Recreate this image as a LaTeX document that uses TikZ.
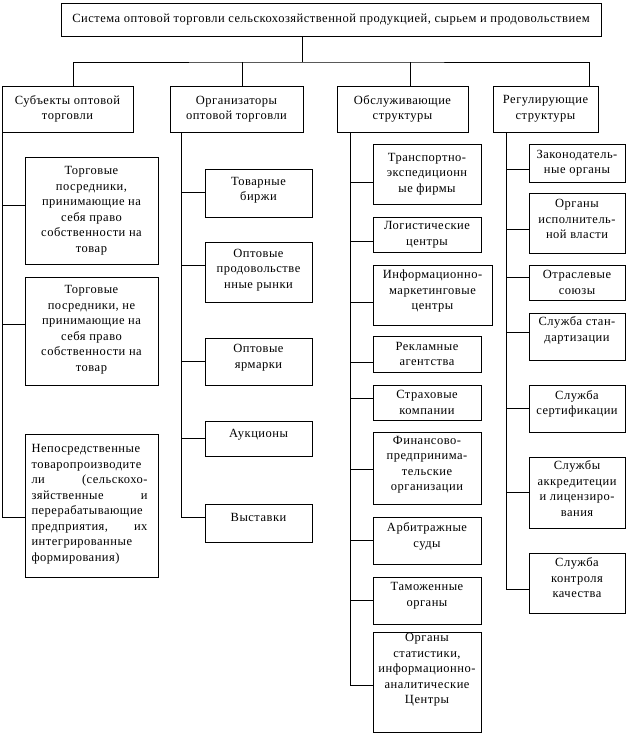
\documentclass[tikz,border=0pt]{standalone}
\usepackage{fontspec}
\setmainfont{Liberation Serif}[LetterSpace=4]
\newcommand\boxfont{\fontsize{12.5}{15.5}\selectfont}
% name, x1, y1, x2, y2, raise (pt), text
\newcommand\bx[7]{%
  \node[box] (#1) at (#2,#3)
    {\parbox[c][\dimexpr#5pt-#3pt\relax][c]{\dimexpr#4pt-#2pt\relax}%
      {\boxfont\centering #7\par\vspace{#6pt}}};}
\begin{document}
\begin{tikzpicture}[x=1pt,y=-1pt,line width=0.8pt,
  box/.style={draw, inner sep=0pt, outer sep=0pt, anchor=north west},
  link/.style={draw, line width=0.8pt}]
\useasboundingbox (0,0) rectangle (626,734);

% ---- top and level 2
\bx{top}{61}{3}{601}{36}{0}{Система оптовой торговли сельскохозяйственной продукцией, сырьем и продовольствием}
\bx{s0}{2}{86}{133}{132}{0}{Субъекты оптовой\\торговли}
\bx{o0}{170}{86}{303}{132}{0}{Организаторы\\оптовой торговли}
\bx{u0}{337}{86}{468}{132}{0}{Обслуживающие\\структуры}
\bx{r0}{493}{86}{598}{132}{0}{Регулирующие\\структуры}

% ---- subjects
\bx{s1}{25}{157}{158}{264}{0}{Торговые\\посредники,\\принимающие на\\себя право\\собственности на\\товар}
\bx{s2}{25}{277}{158}{385}{3}{Торговые\\посредники, не\\принимающие на\\себя право\\собственности на\\товар}
\bx{s3}{25}{434}{158}{577}{3}{\hspace*{-4pt}\parbox{116pt}{\raggedright
Непосредственные\\
товаропроизводите\\
ли\hfill(сельскохо-\\
зяйственные\hfill и\\
перерабатывающие\\
предприятия,\hfill их\\
интегрированные\\
формирования)}}

% ---- organisers
\bx{o1}{205}{169}{312}{217}{6}{Товарные\\биржи}
\bx{o2}{205}{242}{312}{302}{4}{Оптовые\\продовольстве\\нные рынки}
\bx{o3}{205}{338}{312}{385}{8}{Оптовые\\ярмарки}
\bx{o4}{205}{421}{312}{456}{8}{Аукционы}
\bx{o5}{205}{504}{312}{542}{12}{Выставки}

% ---- service structures
\bx{u1}{373}{144}{481}{204}{0}{Транспортно-\\экспедиционн\\ые фирмы}
\bx{u2}{373}{217}{481}{252}{0}{Логистические\\центры}
\bx{u3}{373}{265}{492}{325}{8}{Информационно-\\маркетинговые\\центры}
\bx{u4}{373}{336}{481}{372}{0}{Рекламные\\агентства}
\bx{u5}{373}{385}{481}{420}{0}{Страховые\\компании}
\bx{u6}{373}{432}{481}{504}{7}{Финансово-\\предпринима-\\тельские\\организации}
\bx{u7}{373}{517}{481}{564}{8}{Арбитражные\\суды}
\bx{u8}{373}{577}{481}{624}{10}{Таможенные\\органы}
\bx{u9}{373}{632}{481}{732}{24}{Органы\\статистики,\\информационно-\\аналитические\\Центры}

% ---- regulating structures
\bx{r1}{529}{144}{625}{182}{0}{Законодатель-\\ные органы}
\bx{r2}{529}{193}{625}{253}{8}{Органы\\исполнитель-\\ной власти}
\bx{r3}{529}{265}{625}{300}{0}{Отраслевые\\союзы}
\bx{r4}{529}{313}{625}{360}{12}{Служба стан-\\дартизации}
\bx{r5}{529}{385}{625}{432}{9}{Служба\\сертификации}
\bx{r6}{529}{457}{625}{528}{8}{Службы\\аккредитеции\\и лицензиро-\\вания}
\bx{r7}{529}{553}{625}{613}{10}{Служба\\контроля\\качества}

% ---- top bus
\coordinate (stem) at ([xshift=-29pt]top.south);
\coordinate (bus) at ([yshift=-26pt]stem);
\coordinate (d1) at ([xshift=71pt]s0.north west);
\coordinate (d2) at ([xshift=72pt]o0.north west);
\coordinate (d3) at ([xshift=73pt]u0.north west);
\coordinate (d4) at ([xshift=96pt]r0.north west);
\draw[link] (stem) -- (bus);
\draw[link] (d1) |- (bus) -| (d4);
\draw[link] (d2) -- (d2 |- bus);
\draw[link] (d3) -- (d3 |- bus);

% ---- columns
\coordinate (sc) at (s0.south west);
\coordinate (oc) at ([xshift=11pt]o0.south west);
\coordinate (uc) at ([xshift=13pt]u0.south west);
\coordinate (rc) at ([xshift=13pt]r0.south west);

\foreach \n/\s in {s1/5.5, s2/7, s3/-11.5}{
  \coordinate (\n p) at ([yshift=\s pt]\n.west);
  \draw[link] (sc |- \n p) -- (\n p);}
\draw[link] (sc) -- (sc |- s3p);

\foreach \n/\s in {o1/1, o2/7, o3/0.5, o4/0.5, o5/6}{
  \coordinate (\n p) at ([yshift=\s pt]\n.west);
  \draw[link] (oc |- \n p) -- (\n p);}
\draw[link] (oc) -- (oc |- o5p);

\foreach \n/\s in {u1/-8, u2/-6.5, u3/-7, u4/-8, u5/4.5, u6/-1, u7/0, u8/0, u9/-3}{
  \coordinate (\n p) at ([yshift=\s pt]\n.west);
  \draw[link] (uc |- \n p) -- (\n p);}
\draw[link] (uc) -- (uc |- u9p);

\foreach \n/\s in {r1/-6, r2/-6, r3/5.5, r4/4.5, r5/0, r6/0, r7/-6}{
  \coordinate (\n p) at ([yshift=\s pt]\n.west);
  \draw[link] (rc |- \n p) -- (\n p);}
\draw[link] (rc) -- (rc |- r7p);
\end{tikzpicture}
\end{document}
